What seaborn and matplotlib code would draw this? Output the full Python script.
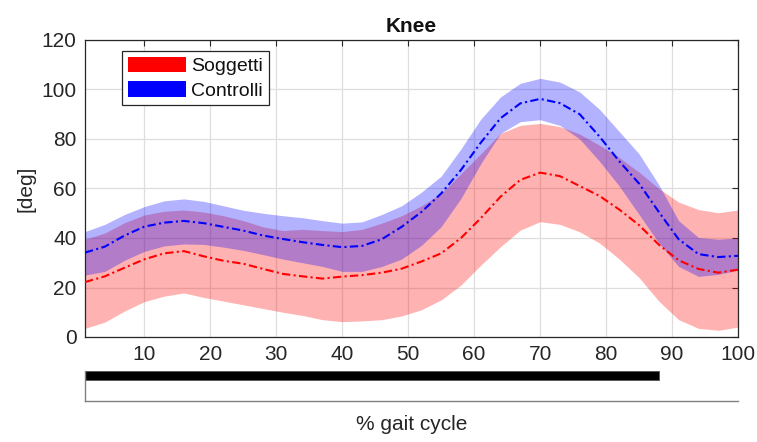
import numpy as np
import pandas as pd
import matplotlib
matplotlib.use("Agg")
import matplotlib.pyplot as plt
import seaborn as sns
from matplotlib.patches import Patch

# Percent of the gait cycle at which each curve is sampled
cycle = [1, 4, 7, 10, 13, 16, 19, 22, 25, 28, 31, 34, 37, 40, 43, 46, 49,
         52, 55, 58, 61, 64, 67, 70, 73, 76, 79, 82, 85, 88, 91, 94, 97, 100]

# Knee angle (deg): subjects (mean and band limits)
sogg_mean = [22.2, 24.5, 28.0, 31.4, 33.8, 34.7, 32.6, 30.8, 29.6, 27.5, 25.5,
             24.5, 23.6, 24.4, 25.0, 26.0, 27.6, 30.5, 33.8, 40.0, 48.0, 56.7,
             63.5, 66.4, 65.0, 61.0, 57.0, 51.5, 45.2, 37.3, 31.0, 27.5, 26.0, 27.2]
sogg_upper = [39.5, 42.0, 46.2, 49.3, 50.8, 51.3, 50.5, 49.0, 47.0, 44.5, 43.0,
              43.5, 43.0, 42.6, 43.5, 46.0, 49.0, 53.0, 58.0, 66.0, 74.0, 82.3,
              85.5, 86.3, 85.0, 82.0, 77.5, 72.5, 66.6, 60.0, 54.5, 51.5, 50.2, 51.3]
sogg_lower = [3.5, 6.0, 10.5, 14.3, 16.5, 17.8, 16.0, 14.5, 13.0, 11.5, 10.0,
              8.7, 7.0, 6.2, 6.5, 7.0, 8.5, 11.0, 15.0, 21.0, 29.0, 36.5,
              43.2, 46.6, 45.5, 42.5, 38.0, 31.5, 24.0, 14.5, 7.0, 3.5, 2.7, 4.0]

# Knee angle (deg): controls (mean and band limits)
ctrl_mean = [34.1, 36.5, 41.0, 44.6, 46.2, 46.9, 46.0, 44.5, 43.0, 41.0, 39.6,
             38.3, 37.2, 36.3, 36.8, 39.5, 44.5, 50.5, 58.0, 67.5, 78.5, 88.4,
             94.4, 96.2, 94.5, 90.0, 81.0, 71.0, 62.0, 50.5, 39.5, 33.5, 32.3, 32.8]
ctrl_upper = [42.6, 45.5, 49.5, 52.7, 55.0, 55.8, 54.8, 53.0, 51.2, 50.0, 49.0,
              48.2, 47.0, 46.0, 46.5, 49.5, 53.0, 58.5, 65.0, 76.0, 88.0, 97.0,
              102.5, 104.5, 103.0, 99.0, 92.0, 83.0, 74.0, 61.5, 47.0, 40.2, 39.5, 40.0]
ctrl_lower = [25.0, 26.5, 31.0, 34.6, 36.8, 37.6, 37.4, 36.3, 35.0, 33.3, 31.5,
              30.0, 28.5, 26.5, 26.5, 28.5, 31.5, 37.0, 44.6, 56.0, 70.0, 82.3,
              87.0, 87.8, 85.5, 80.0, 71.0, 61.0, 49.5, 38.0, 28.5, 24.5, 25.3, 27.0]

groups = ["Soggetti", "Controlli"]
colors = {"Soggetti": "#ff0000", "Controlli": "#0000ff"}
x_ticks = [10, 20, 30, 40, 50, 60, 70, 80, 90, 100]
y_ticks = [0, 20, 40, 60, 80, 100, 120]
stance_end = 88

df = pd.DataFrame({
    "cycle": cycle * 2,
    "angle": sogg_mean + ctrl_mean,
    "group": ["Soggetti"] * len(cycle) + ["Controlli"] * len(cycle),
})

sns.set_theme(style="white")
plt.rcParams["font.family"] = ["Liberation Sans", "DejaVu Sans"]
text_col = "#262626"

fig = plt.figure(figsize=(7.57, 4.42), dpi=100)
ax = fig.add_axes([85 / 757, 1 - 337 / 442, 653 / 757, 297 / 442])
ax2 = fig.add_axes([85 / 757, 1 - 401 / 442, 653 / 757, 30 / 442])

# Variability bands
ax.fill_between(cycle, sogg_lower, sogg_upper, color=colors["Soggetti"],
                alpha=0.3, linewidth=0, zorder=2)
ax.fill_between(cycle, ctrl_lower, ctrl_upper, color=colors["Controlli"],
                alpha=0.3, linewidth=0, zorder=2)

# Mean curves
sns.lineplot(data=df, x="cycle", y="angle", hue="group", palette=colors,
             hue_order=groups, legend=False, ax=ax, linewidth=1.5, zorder=3)
for ln in ax.lines:
    ln.set_dashes([4, 1.6, 1, 1.6])

ax.set_xlim(1, 100)
ax.set_ylim(0, 120)
ax.set_xticks(x_ticks)
ax.set_yticks(y_ticks)
ax.tick_params(axis="both", which="both", direction="in", length=4.5,
               width=0.8, color=text_col, labelcolor=text_col, labelsize=15,
               top=True, right=True, pad=6)
ax.grid(True, color="#dedede", linewidth=0.9)
ax.set_axisbelow(True)
for sp in ax.spines.values():
    sp.set_color(text_col)
    sp.set_linewidth(0.9)
ax.set_xlabel("")
ax.set_ylabel("[deg]", fontsize=15, color=text_col, labelpad=4)
ax.set_title("Knee", fontsize=15, fontweight="bold", color="#111111", pad=6)

handles = [Patch(facecolor=colors[g], edgecolor="none") for g in groups]
leg = ax.legend(handles, groups, loc="upper left",
                bbox_to_anchor=(0.057, 0.963), borderaxespad=0,
                fontsize=14, handlelength=3.0, handleheight=0.85,
                labelspacing=0.3, handletextpad=0.25, borderpad=0.3,
                fancybox=False, framealpha=1, edgecolor=text_col)
leg.get_frame().set_linewidth(0.9)
for t in leg.get_texts():
    t.set_color("#111111")

# Stance phase bar
ax2.barh(0.85, stance_end - 1, left=1, height=0.3, color="black",
         edgecolor="#555555", linewidth=0.6)
ax2.set_xlim(1, 100)
ax2.set_ylim(0, 1)
ax2.set_xticks([])
ax2.set_yticks([])
ax2.set_facecolor("white")
for side in ["top", "right"]:
    ax2.spines[side].set_visible(False)
for side in ["left", "bottom"]:
    ax2.spines[side].set_color("#808080")
    ax2.spines[side].set_linewidth(1.0)

fig.text(411.5 / 757, 1 - 425 / 442, "% gait cycle", ha="center", va="center",
         fontsize=15, color=text_col)

fig.savefig("out.png", dpi=100, facecolor="white")
